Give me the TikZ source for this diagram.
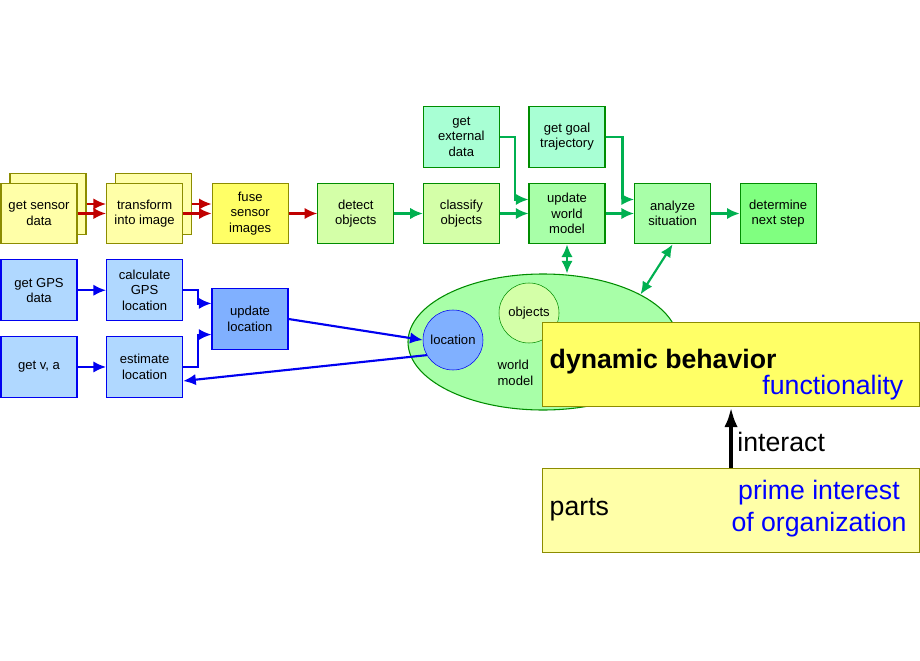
\documentclass[tikz,border=0pt]{standalone}
\usepackage{fontspec}
\setmainfont{Liberation Sans}
\usepackage{tikz}
\usetikzlibrary{arrows.meta,positioning,shapes.geometric}
\definecolor{edgeolive}{HTML}{8C8C00}
\definecolor{paleyellow}{HTML}{FFFFA8}
\definecolor{brightyellow}{HTML}{FFFF66}
\definecolor{edgegreen}{HTML}{008C00}
\definecolor{palelime}{HTML}{D4FFA8}
\definecolor{mintgreen}{HTML}{A8FFD4}
\definecolor{modelgreen}{HTML}{A8FFA8}
\definecolor{stepgreen}{HTML}{80FF80}
\definecolor{flowgreen}{HTML}{00B050}
\definecolor{flowred}{HTML}{C00000}
\definecolor{flowblue}{HTML}{0000F0}
\definecolor{paleblue}{HTML}{B0D8FF}
\definecolor{locblue}{HTML}{80B0FF}
\definecolor{textblue}{HTML}{0000FF}

\begin{document}
\begin{tikzpicture}[
  x=0.75pt, y=-0.75pt,
  node distance=11.25pt and 21.4pt,
  font=\fontsize{9.8}{11.6}\selectfont,
  proc/.style={rectangle, draw, line width=0.8pt, align=center, minimum width=57pt, minimum height=45.5pt, inner sep=1pt},
  yproc/.style={proc, draw=edgeolive, fill=paleyellow},
  lproc/.style={proc, draw=edgegreen, fill=palelime},
  mproc/.style={proc, draw=edgegreen, fill=mintgreen},
  gproc/.style={proc, draw=edgegreen, fill=modelgreen},
  bproc/.style={proc, draw=flowblue, fill=paleblue},
  bigbox/.style={rectangle, draw=edgeolive, line width=0.8pt, minimum width=282.75pt, minimum height=63pt, anchor=north west},
  bigtext/.style={font=\fontsize{20}{24}\selectfont},
  redarrow/.style={-{Latex[length=9.5pt,width=8.5pt]}, line width=1.6pt, draw=flowred},
  garrow/.style={-{Latex[length=9.5pt,width=8.5pt]}, line width=1.6pt, draw=flowgreen},
  gdarrow/.style={{Latex[length=9.5pt,width=8.5pt]}-{Latex[length=9.5pt,width=8.5pt]}, line width=1.6pt, draw=flowgreen},
  barrow/.style={-{Latex[length=9.5pt,width=8.5pt]}, line width=1.6pt, draw=flowblue}
]
\useasboundingbox (0,0) rectangle (920,660);
% sensor chain
\node[yproc] (sensorback) at (48,204) {};
\node[yproc] (sensor) at (39,213.5) {get sensor\\data};
\node[yproc, right=of sensorback] (transformback) {};
\node[yproc, right=of sensor] (transform) {transform\\into image};
\node[yproc, fill=brightyellow, right=of transform] (fuse) {fuse\\sensor\\images};
\node[lproc, right=of fuse] (detect) {detect\\objects};
\node[lproc, right=of detect] (classify) {classify\\objects};
\node[gproc, right=of classify] (updworld) {update\\world\\model};
\node[gproc, right=of updworld] (analyze) {analyze\\situation};
\node[gproc, fill=stepgreen, right=of analyze] (nextstep) {determine\\next step};
\node[mproc, above=of classify] (external) {get\\external\\data};
\node[mproc, above=of updworld] (goal) {get goal\\trajectory};
% location chain
\node[bproc, below=of sensor] (gps) {get GPS\\data};
\node[bproc, right=of gps] (calcgps) {calculate\\GPS\\location};
\node[bproc, below=of gps] (getva) {get v, a};
\node[bproc, right=of getva] (estimate) {estimate\\location};
\node[bproc, fill=locblue] (updloc) at (250,319) {update\\location};
% world model
\node[ellipse, draw=edgegreen, fill=modelgreen, line width=0.8pt, minimum width=202.5pt, minimum height=102pt] (world) at (543,342) {};
\node[circle, draw=edgegreen, fill=palelime, minimum size=45pt, inner sep=0pt] (objects) at (529,313) {objects};
\node[circle, draw=flowblue, fill=locblue, minimum size=45pt, inner sep=0pt] (location) at (453,340) {location};
\node[anchor=west, align=left, inner sep=1pt] (wmlabel) at (496,373) {world\\model};
% behavior and parts
\node[bigbox, fill=brightyellow] (dynbox) at (542,322) {};
\node[bigtext, anchor=west, font=\fontsize{20}{24}\selectfont\bfseries] (dyntext) at (545,362) {dynamic behavior};
\node[bigtext, anchor=east, text=textblue] (functext) at (908,388) {functionality};
\node[bigbox, fill=paleyellow] (partbox) at (542,468) {};
\node[bigtext, anchor=west] (partstext) at (545,510) {parts};
\node[bigtext, align=center, text=textblue] (interest) at (819,509) {prime interest\\of organization};

\draw[redarrow] (sensorback.east) -- (sensorback.east -| transform.west);
\draw[redarrow] (sensor) -- (transform);
\draw[redarrow] (transformback.east) -- (transformback.east -| fuse.west);
\draw[redarrow] (transform) -- (fuse);
\draw[redarrow] (fuse) -- (detect);
\draw[garrow] (detect) -- (classify);
\draw[garrow] (classify) -- (updworld);
\draw[garrow] (external.east) -- ++(15,0) |- (updworld.160);
\draw[garrow] (updworld) -- (analyze);
\draw[garrow] (goal.east) -- ++(17,0) |- (analyze.160);
\draw[garrow] (analyze) -- (nextstep);
\draw[gdarrow] (updworld.south) -- (updworld.south |- world.north);
\draw[gdarrow] (analyze.south) -- (world.26);

\draw[barrow] (gps) -- (calcgps);
\draw[barrow] (getva) -- (estimate);
\draw[barrow] (calcgps.east) -- ++(15,0) |- (updloc.158);
\draw[barrow] (estimate.east) -- ++(15,0) |- (updloc.202);
\draw[barrow] (updloc.east) -- (location.west);
\draw[barrow] (location.210) -- (estimate.340);

\draw[-{Latex[length=15pt,width=10pt]}, line width=3pt] (partbox.north) -- (dynbox.south)
  node[bigtext, midway, right, yshift=-3pt] (interact) {interact};
\end{tikzpicture}
\end{document}
